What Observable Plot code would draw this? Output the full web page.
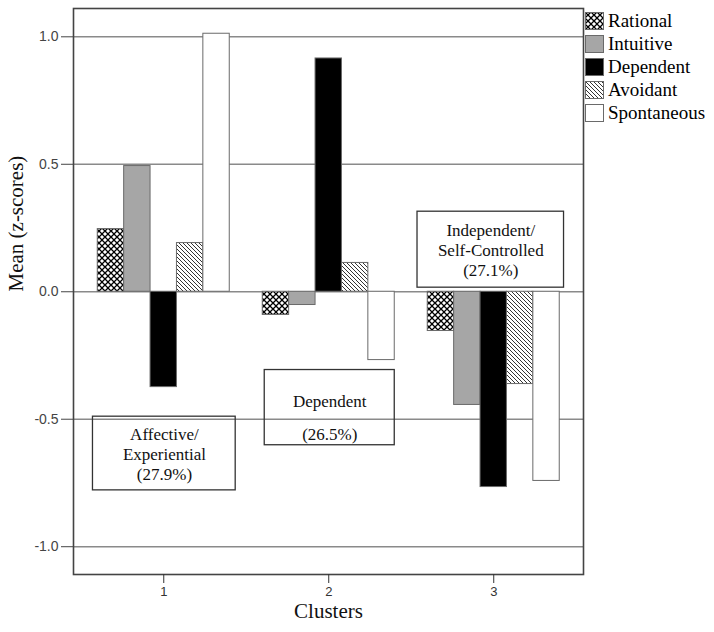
<!DOCTYPE html>
<html>
<head>
<meta charset="utf-8">
<script src="https://cdn.jsdelivr.net/npm/d3@7"></script>
<script src="https://cdn.jsdelivr.net/npm/@observablehq/plot@0.6"></script>
<style>
  body { margin: 0; background: #fff; }
  #wrap { position: relative; width: 714px; height: 632px; }
  #legend { position: absolute; left: 585px; top: 9px; font-family: 'Liberation Serif', serif; font-size: 19px; color: #000; }
  #legend .row { display: flex; align-items: center; height: 23.2px; }
  #legend svg { margin-right: 4px; }
</style>
</head>
<body>
<svg width="0" height="0" style="position:absolute">
  <defs>
    <pattern id="pat-cross" patternUnits="userSpaceOnUse" width="6" height="6">
      <rect width="6" height="6" fill="#fff"></rect>
      <path d="M-1,-1 L7,7 M7,-1 L-1,7" stroke="#000" stroke-width="1.3"></path>
    </pattern>
    <pattern id="pat-diag" patternUnits="userSpaceOnUse" width="4" height="4">
      <rect width="4" height="4" fill="#fff"></rect>
      <path d="M-1,-1 L5,5 M-1,3 L1,5 M3,-1 L5,1" stroke="#000" stroke-width="0.8"></path>
    </pattern>
  </defs>
</svg>
<div id="wrap"><div id="legend"></div></div>
<script>
// ---- data ----
const clusters = [1, 2, 3];
const series = ["Rational", "Intuitive", "Dependent", "Avoidant", "Spontaneous"];
const rational    = [0.246, -0.091, -0.154];
const intuitive   = [0.493, -0.052, -0.444];
const dependent   = [-0.374, 0.915, -0.766];
const avoidant    = [0.191, 0.113, -0.362];
const spontaneous = [1.012, -0.268, -0.742];
const yTicks = [-1.0, -0.5, 0.0, 0.5, 1.0];

// cluster annotation boxes (data units)
const boxText = ["Affective/\nExperiential\n(27.9%)", "Dependent\n(26.5%)", "Independent/\nSelf-Controlled\n(27.1%)"];
const boxX1 = [0.571, 1.612, 2.538];
const boxX2 = [1.436, 2.400, 3.426];
const boxY1 = [-0.490, -0.307, 0.314];
const boxY2 = [-0.779, -0.602, 0.016];
const boxTextX = [1.004, 2.006, 2.982];
const boxTextY = [-0.636, -0.476, 0.166];

// ---- build table ----
const values = [rational, intuitive, dependent, avoidant, spontaneous];
const rows = [];
clusters.forEach((c, ci) => series.forEach((s, si) => rows.push({cluster: c, series: s, idx: si, value: values[si][ci]})));
const boxes = boxText.map((t, i) => ({text: t, x1: boxX1[i], x2: boxX2[i], y1: boxY1[i], y2: boxY2[i], tx: boxTextX[i], ty: boxTextY[i]}));

const fills = ["url(#pat-cross)", "#a6a6a6", "#000000", "url(#pat-diag)", "#ffffff"];
const groupW = 0.8, barW = groupW / series.length;

const serif = "Liberation Serif, serif";
const sans = "Liberation Sans, Arial, sans-serif";

const chart = Plot.plot({
  width: 714,
  height: 632,
  marginLeft: 73,
  marginRight: 131,
  marginTop: 8,
  marginBottom: 58,
  x: {type: "linear", domain: [0.453, 3.544], axis: null},
  y: {domain: [-1.109, 1.111], axis: null},
  color: {type: "ordinal", domain: series, range: fills},
  style: {background: "#fff"},
  marks: [
    Plot.ruleY(yTicks, {stroke: "#8a8a8a", strokeWidth: 1.6}),
    Plot.rect(rows, {
      x1: d => d.cluster - groupW / 2 + d.idx * barW,
      x2: d => d.cluster - groupW / 2 + (d.idx + 1) * barW,
      y1: 0, y2: "value",
      fill: "series", stroke: "#6a6a6a", strokeWidth: 1
    }),
    Plot.rect(boxes, {x1: "x1", x2: "x2", y1: "y1", y2: "y2", fill: "none", stroke: "#333", strokeWidth: 1.3}),
    Plot.text(boxes.filter((d, i) => i !== 1), {x: "tx", y: "ty", text: "text", fontSize: 17, fontFamily: serif, lineHeight: 1.18, fill: "#111"}),
    Plot.text(boxes.filter((d, i) => i === 1), {x: "tx", y: "ty", text: "text", fontSize: 17, fontFamily: serif, lineHeight: 1.9, fill: "#111"}),
    Plot.frame({stroke: "#444", strokeWidth: 1.6}),
    Plot.axisY(yTicks, {tickSize: 12, tickPadding: 3, tickFormat: d => d.toFixed(1), fontSize: 14, fontFamily: sans, fill: "#444", stroke: "#444", label: null}),
    Plot.axisX(clusters, {tickSize: 9, tickPadding: 3, tickFormat: d => String(d), fontSize: 13, fontFamily: sans, fill: "#333", stroke: "#333", label: null}),
    Plot.text(["Mean (z-scores)"], {frameAnchor: "left", dx: -57, rotate: -90, fontSize: 21, fontFamily: serif, fill: "#111"}),
    Plot.text(["Clusters"], {frameAnchor: "bottom", dy: 43, fontSize: 21, fontFamily: serif, fill: "#111"})
  ]
});
document.getElementById("wrap").prepend(chart);

// legend
const legend = d3.select("#legend");
series.forEach((s, i) => {
  const row = legend.append("div").attr("class", "row");
  const sw = row.append("svg").attr("width", 19).attr("height", 18);
  sw.append("rect").attr("x", 0.5).attr("y", 0.5).attr("width", 18).attr("height", 17)
    .attr("fill", fills[i]).attr("stroke", "#6a6a6a").attr("stroke-width", 1);
  row.append("span").style("font-family", "'Liberation Serif', serif").style("font-size", "19px").text(s);
});
</script>
</body>
</html>
